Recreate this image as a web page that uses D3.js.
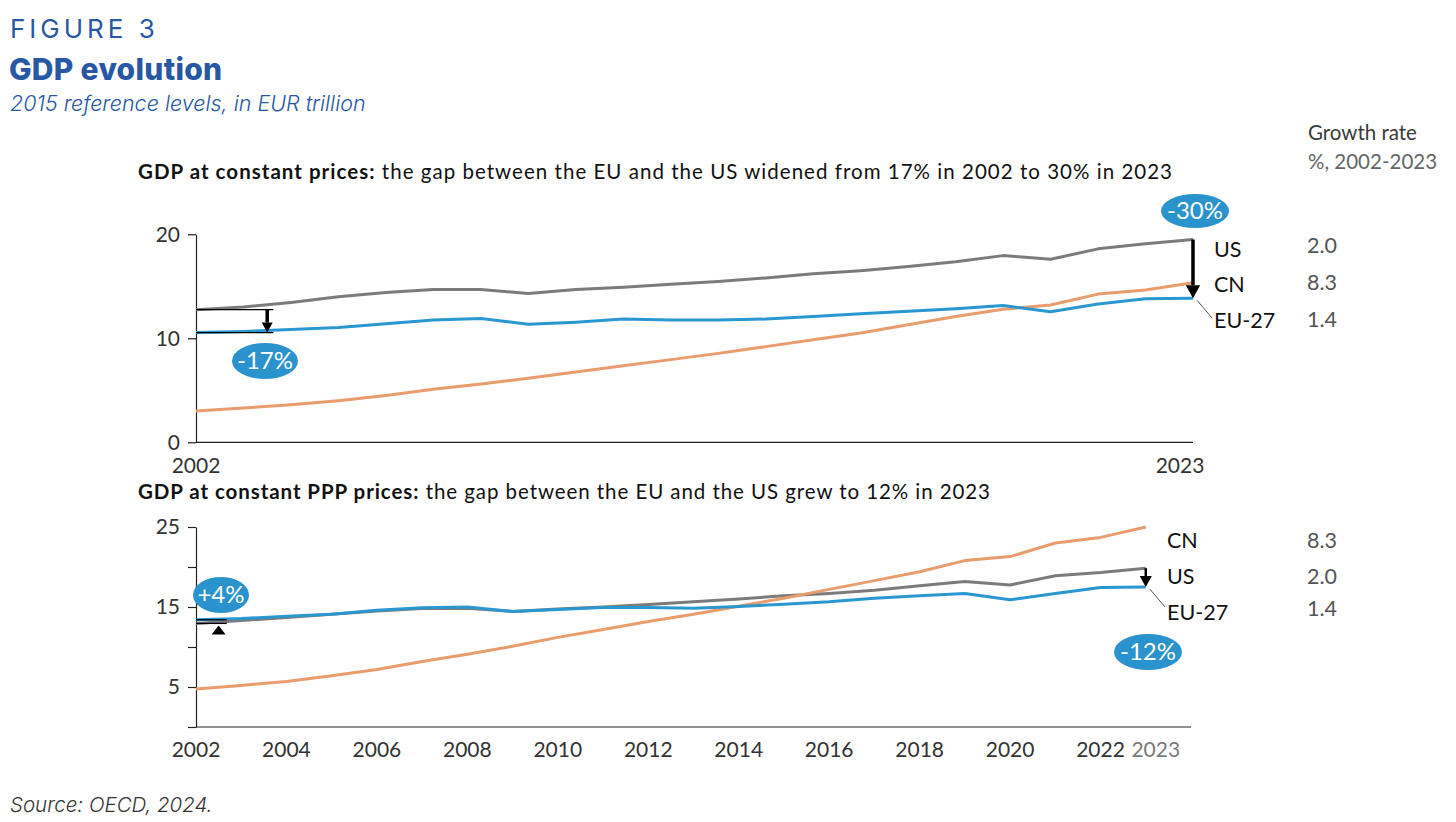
<!DOCTYPE html>
<html>
<head>
<meta charset="utf-8">
<script src="https://cdn.jsdelivr.net/npm/d3@7"></script>
<style>
  body { margin: 0; background: #fff; }
  svg text { font-family: Lato, "Open Sans", sans-serif; }
  .head { font-family: Inter, "Noto Sans", sans-serif !important; fill: #2857a4; }
  .axis text { font-size: 21px; fill: #333; }
  .axis path, .axis line { stroke: #222; stroke-width: 1.2; }
</style>
</head>
<body>
<svg width="1456" height="822"></svg>
<script>
// years on the x axis
const years = [2002, 2003, 2004, 2005, 2006, 2007, 2008, 2009, 2010, 2011, 2012,
               2013, 2014, 2015, 2016, 2017, 2018, 2019, 2020, 2021, 2022, 2023];

// GDP at constant prices, EUR trillion (2015 reference levels)
const usConst = [12.75, 13.0, 13.45, 14.0, 14.4, 14.7, 14.7, 14.3, 14.7, 14.9, 15.2,
                 15.45, 15.8, 16.2, 16.5, 16.9, 17.35, 17.95, 17.6, 18.6, 19.1, 19.5];
const cnConst = [3.0, 3.3, 3.6, 4.0, 4.5, 5.1, 5.6, 6.15, 6.75, 7.35, 7.95,
                 8.55, 9.2, 9.85, 10.5, 11.3, 12.1, 12.8, 13.2, 14.25, 14.65, 15.35];
const euConst = [10.55, 10.65, 10.85, 11.05, 11.4, 11.75, 11.9, 11.35, 11.55, 11.85, 11.75,
                 11.75, 11.85, 12.1, 12.35, 12.6, 12.85, 13.15, 12.55, 13.3, 13.8, 13.85];

// GDP at constant PPP prices
const usPpp = [12.95, 13.3, 13.7, 14.1, 14.5, 14.8, 14.85, 14.45, 14.75, 15.0, 15.3,
               15.65, 16.0, 16.4, 16.7, 17.1, 17.65, 18.2, 17.75, 18.9, 19.3, 19.85];
const cnPpp = [4.75, 5.2, 5.7, 6.4, 7.2, 8.2, 9.1, 10.1, 11.2, 12.2, 13.2,
               14.1, 15.1, 16.1, 17.2, 18.3, 19.4, 20.8, 21.3, 23.0, 23.7, 25.0];
const euPpp = [13.4, 13.55, 13.85, 14.1, 14.6, 14.9, 15.0, 14.45, 14.7, 14.95, 14.95,
               14.85, 15.05, 15.35, 15.65, 16.1, 16.4, 16.7, 15.9, 16.7, 17.45, 17.5];

const series = ["US", "CN", "EU-27"];
const growthRate = ["2.0", "8.3", "1.4"];   // %, 2002-2023 (US, CN, EU-27)
const gapConst = ["-17%", "-30%"];
const gapPpp = ["+4%", "-12%"];
const topTicks = [0, 10, 20];
const bottomTicks = [0, 5, 10, 15, 20, 25];
const bottomTickLabels = [25, 15, 5];
const bottomYearLabels = [2002, 2004, 2006, 2008, 2010, 2012, 2014, 2016, 2018, 2020, 2022];

const colors = { "US": "#7b7b7b", "CN": "#e99c6c", "EU-27": "#2a97d0" };
const bubbleFill = "#2a93cd";

const svg = d3.select("svg");

// ---- header ----
svg.append("text").attr("class", "head").attr("x", 10).attr("y", 38)
  .style("font-size", "26px").style("letter-spacing", "4px").style("font-weight", 400)
  .text("FIGURE 3");
svg.append("text").attr("class", "head").attr("x", 9).attr("y", 80)
  .style("font-size", "30px").style("font-weight", 800).style("letter-spacing", "0.3px")
  .text("GDP evolution");
svg.append("text").attr("class", "head").attr("x", 10).attr("y", 111)
  .style("font-size", "21.5px").style("font-style", "italic").style("font-weight", 300)
  .text("2015 reference levels, in EUR trillion");

svg.append("text").attr("x", 1308).attr("y", 140)
  .style("font-size", "20.5px").style("fill", "#3a3a3a").text("Growth rate");
svg.append("text").attr("x", 1308).attr("y", 169)
  .style("font-size", "20.5px").style("fill", "#666").text("%, 2002-2023");

svg.append("text").attr("x", 10).attr("y", 812)
  .attr("class", "head").style("fill", "#333")
  .style("font-size", "20.5px").style("font-style", "italic").style("font-weight", 300)
  .text("Source: OECD, 2024.");

function chartTitle(y, bold, rest, width) {
  const t = svg.append("text").attr("x", 138).attr("y", y)
    .attr("textLength", width).attr("lengthAdjust", "spacing")
    .style("font-size", "20.5px").style("fill", "#111");
  t.append("tspan").style("font-weight", 700).text(bold);
  t.append("tspan").text(rest);
}
chartTitle(179, "GDP at constant prices:", " the gap between the EU and the US widened from 17% in 2002 to 30% in 2023", 1034);
chartTitle(499, "GDP at constant PPP prices:", " the gap between the EU and the US grew to 12% in 2023", 852);

// ---- helpers ----
function drawLines(g, x, y, data) {
  const line = d3.line().x((d, i) => x(years[i])).y(d => y(d));
  series.forEach(s => {
    g.append("path").datum(data[s])
      .attr("fill", "none").attr("stroke", colors[s])
      .attr("stroke-width", 3).attr("stroke-linejoin", "round")
      .attr("d", line);
  });
}

function bubble(cx, cy, rx, ry, label) {
  svg.append("ellipse").attr("cx", cx).attr("cy", cy).attr("rx", rx).attr("ry", ry)
    .attr("fill", bubbleFill);
  svg.append("text").attr("x", cx).attr("y", cy + 8).attr("text-anchor", "middle")
    .style("font-size", "24px").style("fill", "#fff").text(label);
}

function arrow(xp, y0, y1, width, head) {
  const dir = y1 > y0 ? 1 : -1;
  svg.append("line").attr("x1", xp).attr("x2", xp).attr("y1", y0).attr("y2", y1 - dir * head)
    .attr("stroke", "#000").attr("stroke-width", width);
  svg.append("path")
    .attr("d", `M${xp - head * 0.55},${y1 - dir * head} L${xp + head * 0.55},${y1 - dir * head} L${xp},${y1} Z`)
    .attr("fill", "#000");
}

// ---- top chart: constant prices ----
const xTop = d3.scaleLinear().domain([2002, 2023]).range([196, 1193]);
const yTop = d3.scaleLinear().domain([0, 20]).range([442.3, 234.3]);
const topG = svg.append("g");

topG.append("g").attr("class", "axis").attr("transform", "translate(196,0)")
  .call(d3.axisLeft(yTop).tickValues(topTicks).tickSize(8).tickSizeOuter(0).tickPadding(8));
topG.append("line").attr("x1", xTop(2002)).attr("x2", xTop(2023))
  .attr("y1", yTop(0)).attr("y2", yTop(0)).attr("stroke", "#222").attr("stroke-width", 1.2);
topG.append("g").attr("class", "axis")
  .selectAll("text").data([2002, 2023]).join("text")
  .attr("x", (d, i) => xTop(d) - i * 13).attr("y", 473).attr("text-anchor", "middle").text(d => d);

drawLines(topG, xTop, yTop, { "US": usConst, "CN": cnConst, "EU-27": euConst });

// 2002 gap
[usConst[0], euConst[0]].forEach(v => {
  topG.append("line").attr("x1", xTop(2002)).attr("x2", xTop(2003.63))
    .attr("y1", yTop(v)).attr("y2", yTop(v)).attr("stroke", "#000").attr("stroke-width", 1.3);
});
arrow(xTop(2003.5), yTop(usConst[0]), yTop(euConst[0]), 3.5, 10);
bubble(265, 361, 33, 18, gapConst[0]);

// 2023 gap
const last = years.length - 1;
arrow(xTop(2023), yTop(usConst[last]), yTop(euConst[last]), 3.5, 13);
bubble(1195, 211, 34, 17, gapConst[1]);

const topLabelY = { "US": 257, "CN": 292, "EU-27": 328 };
const topRateY = { "US": 253, "CN": 290, "EU-27": 327 };
series.forEach((s, i) => {
  svg.append("text").attr("x", 1214).attr("y", topLabelY[s])
    .style("font-size", "21.5px").style("fill", "#111").text(s);
  svg.append("text").attr("x", 1307).attr("y", topRateY[s])
    .style("font-size", "21.5px").style("fill", "#555").text(growthRate[i]);
});
svg.append("line").attr("x1", xTop(2023) + 4).attr("y1", yTop(euConst[last]) + 2)
  .attr("x2", 1212).attr("y2", 318).attr("stroke", "#555").attr("stroke-width", 1);

// ---- bottom chart: constant PPP prices ----
const xBot = d3.scaleLinear().domain([2002, 2024]).range([196, 1191]);
const yBot = d3.scaleLinear().domain([0, 25]).range([727, 527]);
const botG = svg.append("g");

botG.append("g").attr("class", "axis").attr("transform", "translate(196,0)")
  .call(d3.axisLeft(yBot).tickValues(bottomTicks).tickSize(8).tickSizeOuter(0).tickPadding(8)
    .tickFormat(d => bottomTickLabels.includes(d) ? d : ""));
botG.append("line").attr("x1", xBot(2002)).attr("x2", xBot(2024))
  .attr("y1", yBot(0)).attr("y2", yBot(0)).attr("stroke", "#222").attr("stroke-width", 1.2);
botG.append("g").attr("class", "axis")
  .selectAll("text").data(bottomYearLabels).join("text")
  .attr("x", d => xBot(d)).attr("y", 757).attr("text-anchor", "middle").text(d => d);
botG.append("text").attr("x", xBot(2023) + 10).attr("y", 757).attr("text-anchor", "middle")
  .style("font-size", "21px").style("fill", "#7a7a7a").text(2023);

drawLines(botG, xBot, yBot, { "US": usPpp, "CN": cnPpp, "EU-27": euPpp });

// 2002 gap (+4%)
[euPpp[0], usPpp[0]].forEach(v => {
  botG.append("line").attr("x1", xBot(2002)).attr("x2", xBot(2002.68))
    .attr("y1", yBot(v)).attr("y2", yBot(v)).attr("stroke", "#000").attr("stroke-width", 1.3);
});
svg.append("path")
  .attr("d", `M${xBot(2002.5) - 7},${yBot(usPpp[0]) + 11} L${xBot(2002.5) + 7},${yBot(usPpp[0]) + 11} L${xBot(2002.5)},${yBot(usPpp[0]) + 2} Z`)
  .attr("fill", "#000");
bubble(221, 595, 28, 18, gapPpp[0]);

// 2023 gap (-12%)
arrow(xBot(2023), yBot(usPpp[last]), yBot(euPpp[last]), 2.5, 11);
bubble(1148, 652, 34, 18, gapPpp[1]);

const botLabelY = { "CN": 548, "US": 584, "EU-27": 620 };
const botRateY = { "CN": 548, "US": 584, "EU-27": 616 };
series.forEach((s, i) => {
  svg.append("text").attr("x", 1167).attr("y", botLabelY[s])
    .style("font-size", "21.5px").style("fill", "#111").text(s);
  svg.append("text").attr("x", 1307).attr("y", botRateY[s])
    .style("font-size", "21.5px").style("fill", "#555").text(growthRate[i]);
});
svg.append("line").attr("x1", xBot(2023) + 4).attr("y1", yBot(euPpp[last]) + 2)
  .attr("x2", 1165).attr("y2", 607).attr("stroke", "#555").attr("stroke-width", 1);
</script>
</body>
</html>
